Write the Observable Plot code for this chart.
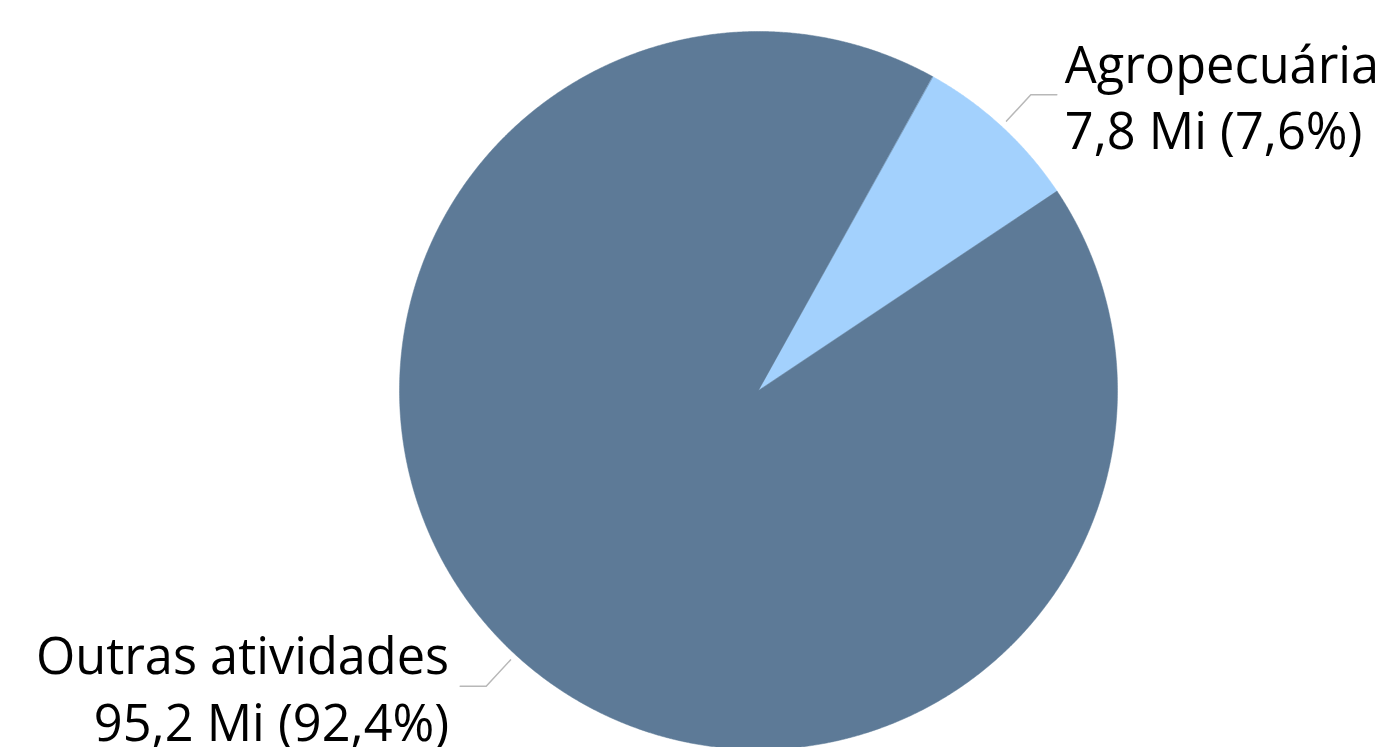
<!DOCTYPE html>
<html>
<head>
<meta charset="utf-8">
<script src="https://cdn.jsdelivr.net/npm/d3@7"></script>
<script src="https://cdn.jsdelivr.net/npm/@observablehq/plot@0.6"></script>
<style>
  html, body { margin: 0; padding: 0; background: #fff; overflow: hidden; }
  #chart svg { display: block; }
</style>
</head>
<body>
<div id="chart"></div>
<script>
// ---- data ----
const categories = ["Agropecuária", "Outras atividades"];
const values = [7.8, 95.2];          // milhões
const valueLabels = ["7,8 Mi", "95,2 Mi"];
const pctLabels = ["7,6%", "92,4%"];
const colors = ["#A3D1FD", "#5D7A97"];

// ---- layout ----
const W = 1385, H = 747;
const R = 359, CX = 758, CY = 390;
const startDeg = 29;

const pie = d3.pie().sort(null).value(d => d.value)
  .startAngle(startDeg * Math.PI / 180)
  .endAngle(startDeg * Math.PI / 180 + 2 * Math.PI);
const rows = categories.map((c, i) => ({cat: c, value: values[i], color: colors[i],
  label: `${c}\n${valueLabels[i]} (${pctLabels[i]})`}));
const arcs = pie(rows);

// polygon points for each slice (unit radius, angle clockwise from north)
function slicePoints(a) {
  const pts = [{x: 0, y: 0}];
  const n = Math.max(2, Math.ceil((a.endAngle - a.startAngle) / (Math.PI / 720)));
  for (let k = 0; k <= n; k++) {
    const t = a.startAngle + (a.endAngle - a.startAngle) * k / n;
    pts.push({x: Math.sin(t), y: Math.cos(t)});
  }
  return pts;
}

const marks = [];
arcs.forEach(a => {
  marks.push(Plot.line(slicePoints(a), {x: "x", y: "y", fill: a.data.color, stroke: a.data.color, strokeWidth: 0.5, curve: "linear-closed"}));
});

// leader lines + labels
const hLen = 26 / R;
arcs.forEach(a => {
  const m = (a.startAngle + a.endAngle) / 2;
  const sx = Math.sin(m), sy = Math.cos(m);
  const right = sx >= 0;
  const p1 = {x: sx * 1.02, y: sy * 1.02};
  const p2 = {x: sx * 1.12, y: sy * 1.12};
  const p3 = {x: p2.x + (right ? hLen : -hLen), y: p2.y};
  marks.push(Plot.line([p1, p2, p3], {x: "x", y: "y", stroke: "#b8b8b8", strokeWidth: 1.5}));
  marks.push(Plot.text([a.data], {
    x: () => p3.x, y: () => p3.y, text: "label",
    textAnchor: right ? "start" : "end", dx: right ? 8 : -11, dy: 0,
    lineAnchor: "middle", lineHeight: 1.32,
    fontSize: 50.5, fill: "#000", fontFamily: "'Open Sans', 'Noto Sans', sans-serif"
  }));
});

const chart = Plot.plot({
  width: W, height: H,
  margin: 0,
  x: {domain: [-CX / R, (W - CX) / R], range: [0, W], axis: null},
  y: {domain: [-(H - CY) / R, CY / R], range: [H, 0], axis: null},
  style: {background: "#fff", overflow: "visible"},
  marks
});
document.getElementById("chart").appendChild(chart);
</script>
</body>
</html>
